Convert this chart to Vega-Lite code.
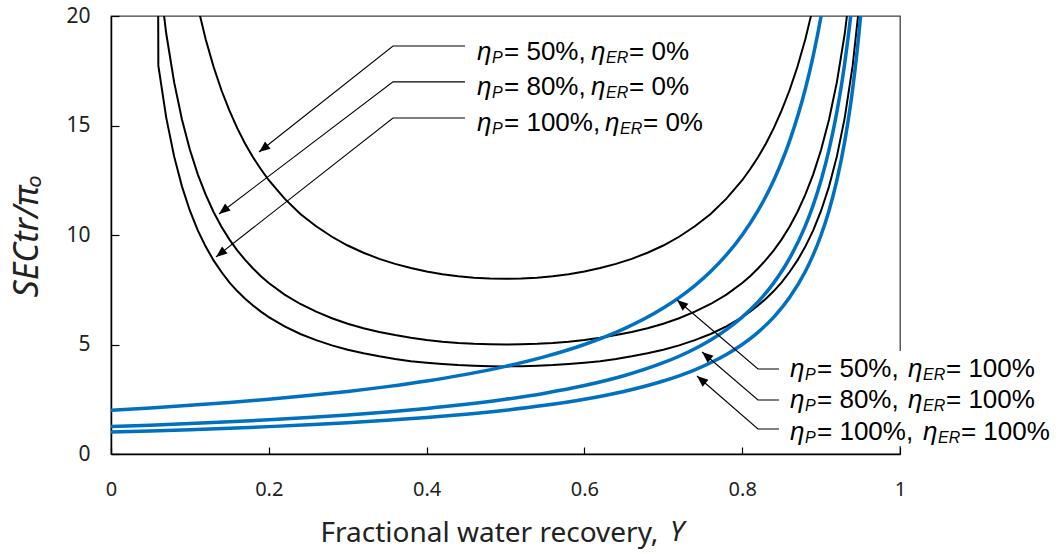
{
  "$schema": "https://vega.github.io/schema/vega-lite/v6.json",
  "width": 789,
  "height": 438,
  "autosize": "none",
  "padding": {"left": 111, "top": 16, "right": 161, "bottom": 100},
  "background": "white",
  "config": {
    "view": {"stroke": "#404040", "strokeWidth": 1.3},
    "axis": {"grid": false, "domainColor": "#000", "domainWidth": 1.5, "tickColor": "#000", "tickWidth": 1.2, "labelColor": "#222", "titleColor": "#222", "labelFont": "Noto Sans", "titleFont": "Noto Sans", "titleFontWeight": "normal", "labelFlush": false, "labelOverlap": false}
  },
  "datasets": {
    "black": [
      {"Y": 0.0598, "a": 20.2},
      {"Y": 0.06, "a": 17.73, "b": 22.16},
      {"Y": 0.07, "a": 15.36, "b": 19.2},
      {"Y": 0.08, "a": 13.59, "b": 16.98},
      {"Y": 0.09, "a": 12.21, "b": 15.26},
      {"Y": 0.10, "a": 11.11, "b": 13.89},
      {"Y": 0.11, "a": 10.21, "b": 12.77, "c": 20.43},
      {"Y": 0.12, "a": 9.47, "b": 11.84, "c": 18.94},
      {"Y": 0.13, "a": 8.84, "b": 11.05, "c": 17.68},
      {"Y": 0.14, "a": 8.31, "b": 10.38, "c": 16.61},
      {"Y": 0.15, "a": 7.84, "b": 9.8, "c": 15.69},
      {"Y": 0.16, "a": 7.44, "b": 9.3, "c": 14.88},
      {"Y": 0.17, "a": 7.09, "b": 8.86, "c": 14.17},
      {"Y": 0.18, "a": 6.78, "b": 8.47, "c": 13.55},
      {"Y": 0.19, "a": 6.5, "b": 8.12, "c": 13.0},
      {"Y": 0.20, "a": 6.25, "b": 7.81, "c": 12.5},
      {"Y": 0.22, "a": 5.83, "b": 7.28, "c": 11.66},
      {"Y": 0.24, "a": 5.48, "b": 6.85, "c": 10.96},
      {"Y": 0.26, "a": 5.2, "b": 6.5, "c": 10.4},
      {"Y": 0.28, "a": 4.96, "b": 6.2, "c": 9.92},
      {"Y": 0.30, "a": 4.76, "b": 5.95, "c": 9.52},
      {"Y": 0.32, "a": 4.6, "b": 5.74, "c": 9.19},
      {"Y": 0.34, "a": 4.46, "b": 5.57, "c": 8.91},
      {"Y": 0.36, "a": 4.34, "b": 5.43, "c": 8.68},
      {"Y": 0.38, "a": 4.24, "b": 5.31, "c": 8.49},
      {"Y": 0.40, "a": 4.17, "b": 5.21, "c": 8.33},
      {"Y": 0.42, "a": 4.11, "b": 5.13, "c": 8.21},
      {"Y": 0.44, "a": 4.06, "b": 5.07, "c": 8.12},
      {"Y": 0.46, "a": 4.03, "b": 5.03, "c": 8.05},
      {"Y": 0.48, "a": 4.01, "b": 5.01, "c": 8.01},
      {"Y": 0.50, "a": 4.0, "b": 5.0, "c": 8.0},
      {"Y": 0.52, "a": 4.01, "b": 5.01, "c": 8.01},
      {"Y": 0.54, "a": 4.03, "b": 5.03, "c": 8.05},
      {"Y": 0.56, "a": 4.06, "b": 5.07, "c": 8.12},
      {"Y": 0.58, "a": 4.11, "b": 5.13, "c": 8.21},
      {"Y": 0.60, "a": 4.17, "b": 5.21, "c": 8.33},
      {"Y": 0.62, "a": 4.24, "b": 5.31, "c": 8.49},
      {"Y": 0.64, "a": 4.34, "b": 5.43, "c": 8.68},
      {"Y": 0.66, "a": 4.46, "b": 5.57, "c": 8.91},
      {"Y": 0.68, "a": 4.6, "b": 5.74, "c": 9.19},
      {"Y": 0.70, "a": 4.76, "b": 5.95, "c": 9.52},
      {"Y": 0.72, "a": 4.96, "b": 6.2, "c": 9.92},
      {"Y": 0.74, "a": 5.2, "b": 6.5, "c": 10.4},
      {"Y": 0.76, "a": 5.48, "b": 6.85, "c": 10.96},
      {"Y": 0.78, "a": 5.83, "b": 7.28, "c": 11.66},
      {"Y": 0.80, "a": 6.25, "b": 7.81, "c": 12.5},
      {"Y": 0.81, "a": 6.5, "b": 8.12, "c": 13.0},
      {"Y": 0.82, "a": 6.78, "b": 8.47, "c": 13.55},
      {"Y": 0.83, "a": 7.09, "b": 8.86, "c": 14.17},
      {"Y": 0.84, "a": 7.44, "b": 9.3, "c": 14.88},
      {"Y": 0.85, "a": 7.84, "b": 9.8, "c": 15.69},
      {"Y": 0.86, "a": 8.31, "b": 10.38, "c": 16.61},
      {"Y": 0.87, "a": 8.84, "b": 11.05, "c": 17.68},
      {"Y": 0.88, "a": 9.47, "b": 11.84, "c": 18.94},
      {"Y": 0.89, "a": 10.21, "b": 12.77, "c": 20.43},
      {"Y": 0.90, "a": 11.11, "b": 13.89},
      {"Y": 0.91, "a": 12.21, "b": 15.26},
      {"Y": 0.92, "a": 13.59, "b": 16.98},
      {"Y": 0.93, "a": 15.36, "b": 19.2},
      {"Y": 0.94, "a": 17.73, "b": 22.16},
      {"Y": 0.95, "a": 21.05}
    ],
    "blue": [
      {"Y": 0, "d": 1, "e": 1.25, "f": 2},
      {"Y": 0.05, "d": 1.053, "e": 1.316, "f": 2.105},
      {"Y": 0.1, "d": 1.111, "e": 1.389, "f": 2.222},
      {"Y": 0.15, "d": 1.176, "e": 1.471, "f": 2.353},
      {"Y": 0.2, "d": 1.25, "e": 1.563, "f": 2.5},
      {"Y": 0.25, "d": 1.333, "e": 1.667, "f": 2.667},
      {"Y": 0.3, "d": 1.429, "e": 1.786, "f": 2.857},
      {"Y": 0.35, "d": 1.538, "e": 1.923, "f": 3.077},
      {"Y": 0.4, "d": 1.667, "e": 2.083, "f": 3.333},
      {"Y": 0.45, "d": 1.818, "e": 2.273, "f": 3.636},
      {"Y": 0.5, "d": 2, "e": 2.5, "f": 4},
      {"Y": 0.55, "d": 2.222, "e": 2.778, "f": 4.444},
      {"Y": 0.6, "d": 2.5, "e": 3.125, "f": 5},
      {"Y": 0.65, "d": 2.857, "e": 3.571, "f": 5.714},
      {"Y": 0.7, "d": 3.333, "e": 4.167, "f": 6.667},
      {"Y": 0.72, "d": 3.571, "e": 4.464, "f": 7.143},
      {"Y": 0.74, "d": 3.846, "e": 4.808, "f": 7.692},
      {"Y": 0.76, "d": 4.167, "e": 5.208, "f": 8.333},
      {"Y": 0.78, "d": 4.545, "e": 5.682, "f": 9.091},
      {"Y": 0.8, "d": 5, "e": 6.25, "f": 10},
      {"Y": 0.82, "d": 5.556, "e": 6.944, "f": 11.111},
      {"Y": 0.84, "d": 6.25, "e": 7.813, "f": 12.5},
      {"Y": 0.86, "d": 7.143, "e": 8.929, "f": 14.286},
      {"Y": 0.88, "d": 8.333, "e": 10.417, "f": 16.667},
      {"Y": 0.89, "d": 9.091, "e": 11.364, "f": 18.182},
      {"Y": 0.9, "d": 10, "e": 12.5, "f": 20},
      {"Y": 0.91, "d": 11.111, "e": 13.889, "f": 22.222},
      {"Y": 0.92, "d": 12.5, "e": 15.625},
      {"Y": 0.93, "d": 14.286, "e": 17.857},
      {"Y": 0.94, "d": 16.667, "e": 20.833},
      {"Y": 0.95, "d": 20, "e": 25},
      {"Y": 0.96, "d": 25}
    ],
    "arrows": [
      {"a": "k50", "g": "k", "o": 0, "x": 0.4487, "y": 18.63},
      {"a": "k50", "g": "k", "o": 1, "x": 0.3574, "y": 18.63},
      {"a": "k50", "g": "k", "o": 2, "x": 0.1876, "y": 13.79},
      {"a": "k80", "g": "k", "o": 0, "x": 0.4487, "y": 16.99},
      {"a": "k80", "g": "k", "o": 1, "x": 0.3574, "y": 16.99},
      {"a": "k80", "g": "k", "o": 2, "x": 0.1369, "y": 10.96},
      {"a": "k100", "g": "k", "o": 0, "x": 0.4487, "y": 15.34},
      {"a": "k100", "g": "k", "o": 1, "x": 0.3574, "y": 15.34},
      {"a": "k100", "g": "k", "o": 2, "x": 0.1331, "y": 9.0},
      {"a": "b50", "g": "b", "o": 0, "x": 0.8466, "y": 3.881},
      {"a": "b50", "g": "b", "o": 1, "x": 0.82, "y": 3.881},
      {"a": "b50", "g": "b", "o": 2, "x": 0.7174, "y": 7.032},
      {"a": "b80", "g": "b", "o": 0, "x": 0.8466, "y": 2.466},
      {"a": "b80", "g": "b", "o": 1, "x": 0.82, "y": 2.466},
      {"a": "b80", "g": "b", "o": 2, "x": 0.7491, "y": 4.658},
      {"a": "b100", "g": "b", "o": 0, "x": 0.8466, "y": 1.142},
      {"a": "b100", "g": "b", "o": 1, "x": 0.82, "y": 1.142},
      {"a": "b100", "g": "b", "o": 2, "x": 0.7427, "y": 3.562}
    ],
    "labels": [
      {"x": 0.4639, "x2": 0.6084, "y": 17.99, "p": "= 50%, ", "e": "= 0%"},
      {"x": 0.4639, "x2": 0.6084, "y": 16.37, "p": "= 80%, ", "e": "= 0%"},
      {"x": 0.4639, "x2": 0.6261, "y": 14.75, "p": "= 100%, ", "e": "= 0%"},
      {"x": 0.8606, "x2": 1.0101, "y": 3.516, "p": "= 50%, ", "e": "= 100%"},
      {"x": 0.8606, "x2": 1.0101, "y": 2.078, "p": "= 80%, ", "e": "= 100%"},
      {"x": 0.8606, "x2": 1.0291, "y": 0.662, "p": "= 100%, ", "e": "= 100%"}
    ]
  },
  "layer": [
    {
      "data": {"name": "black"},
      "transform": [
        {"fold": ["a", "b", "c"], "as": ["s", "v"]},
        {"filter": "isValid(datum.v)"}
      ],
      "mark": {"type": "line", "color": "#000", "strokeWidth": 2, "clip": true},
      "encoding": {
        "x": {"field": "Y", "type": "quantitative", "scale": {"domain": [0, 1], "nice": false},
          "axis": {"values": [0, 0.2, 0.4, 0.6, 0.8, 1], "format": "~g", "tickSize": -7, "labelPadding": 32, "labelFontSize": 20, "title": "Fractional water recovery,", "titleFontSize": 28, "titleX": 209, "titleY": 79, "titleAlign": "left", "titleBaseline": "middle", "titleAnchor": null}},
        "y": {"field": "v", "type": "quantitative", "scale": {"domain": [0, 20], "nice": false},
          "axis": {"values": [0, 5, 10, 15, 20], "format": "~g", "tickSize": -8, "labelPadding": 29, "labelFontSize": 21, "title": "SECtr/πₒ", "titleFontSize": 34, "titleFontStyle": "italic", "titlePadding": 21}},
        "detail": {"field": "s"}
      }
    },
    {
      "data": {"name": "blue"},
      "transform": [
        {"fold": ["d", "e", "f"], "as": ["s", "v"]},
        {"filter": "isValid(datum.v)"}
      ],
      "mark": {"type": "line", "color": "#0070C0", "strokeWidth": 3.5, "interpolate": "monotone", "clip": true},
      "encoding": {
        "x": {"field": "Y", "type": "quantitative"},
        "y": {"field": "v", "type": "quantitative"},
        "detail": {"field": "s"}
      }
    },
    {
      "data": {"values": [{"x": 0.8504, "x2": 1.21, "y": 0.365, "y2": 4.7}]},
      "mark": {"type": "rect", "color": "white"},
      "encoding": {
        "x": {"field": "x", "type": "quantitative"},
        "x2": {"field": "x2"},
        "y": {"field": "y", "type": "quantitative"},
        "y2": {"field": "y2"}
      }
    },
    {
      "data": {"name": "arrows"},
      "mark": {"type": "line", "color": "#000", "strokeWidth": 1.1},
      "encoding": {
        "x": {"field": "x", "type": "quantitative"},
        "y": {"field": "y", "type": "quantitative"},
        "detail": {"field": "a"},
        "order": {"field": "o"}
      }
    },
    {
      "data": {"name": "arrows"},
      "transform": [{"filter": "datum.o == 2 && datum.g == 'k'"}],
      "mark": {"type": "point", "shape": "M0,0L-0.4,1L0.4,1Z", "filled": true, "color": "#000", "opacity": 1, "size": 500, "angle": 232},
      "encoding": {
        "x": {"field": "x", "type": "quantitative"},
        "y": {"field": "y", "type": "quantitative"}
      }
    },
    {
      "data": {"name": "arrows"},
      "transform": [{"filter": "datum.o == 2 && datum.g == 'b'"}],
      "mark": {"type": "point", "shape": "M0,0L-0.4,1L0.4,1Z", "filled": true, "color": "#000", "opacity": 1, "size": 500, "angle": 310.4},
      "encoding": {
        "x": {"field": "x", "type": "quantitative"},
        "y": {"field": "y", "type": "quantitative"}
      }
    },
    {
      "data": {"values": [{"x": 0.7085, "y": -3.6}]},
      "mark": {"type": "text", "text": "Y", "font": "Noto Sans", "fontSize": 28, "fontStyle": "italic", "color": "#222", "align": "left", "baseline": "middle"},
      "encoding": {
        "x": {"field": "x", "type": "quantitative"},
        "y": {"field": "y", "type": "quantitative"}
      }
    },
    {
      "data": {"name": "labels"},
      "mark": {"type": "text", "text": "η", "font": "Liberation Sans", "fontSize": 26, "fontStyle": "italic", "color": "#000", "align": "left", "baseline": "alphabetic"},
      "encoding": {
        "x": {"field": "x", "type": "quantitative"},
        "y": {"field": "y", "type": "quantitative"}
      }
    },
    {
      "data": {"name": "labels"},
      "mark": {"type": "text", "text": "P", "font": "Liberation Sans", "fontSize": 16, "fontStyle": "italic", "color": "#000", "align": "left", "baseline": "alphabetic", "dx": 15, "dy": 3},
      "encoding": {
        "x": {"field": "x", "type": "quantitative"},
        "y": {"field": "y", "type": "quantitative"}
      }
    },
    {
      "data": {"name": "labels"},
      "mark": {"type": "text", "font": "Liberation Sans", "fontSize": 26, "color": "#000", "align": "left", "baseline": "alphabetic", "dx": 27},
      "encoding": {
        "x": {"field": "x", "type": "quantitative"},
        "y": {"field": "y", "type": "quantitative"},
        "text": {"field": "p"}
      }
    },
    {
      "data": {"name": "labels"},
      "mark": {"type": "text", "text": "η", "font": "Liberation Sans", "fontSize": 26, "fontStyle": "italic", "color": "#000", "align": "left", "baseline": "alphabetic"},
      "encoding": {
        "x": {"field": "x2", "type": "quantitative"},
        "y": {"field": "y", "type": "quantitative"}
      }
    },
    {
      "data": {"name": "labels"},
      "mark": {"type": "text", "text": "ER", "font": "Liberation Sans", "fontSize": 16, "fontStyle": "italic", "color": "#000", "align": "left", "baseline": "alphabetic", "dx": 15, "dy": 3},
      "encoding": {
        "x": {"field": "x2", "type": "quantitative"},
        "y": {"field": "y", "type": "quantitative"}
      }
    },
    {
      "data": {"name": "labels"},
      "mark": {"type": "text", "font": "Liberation Sans", "fontSize": 26, "color": "#000", "align": "left", "baseline": "alphabetic", "dx": 38},
      "encoding": {
        "x": {"field": "x2", "type": "quantitative"},
        "y": {"field": "y", "type": "quantitative"},
        "text": {"field": "e"}
      }
    }
  ]
}
